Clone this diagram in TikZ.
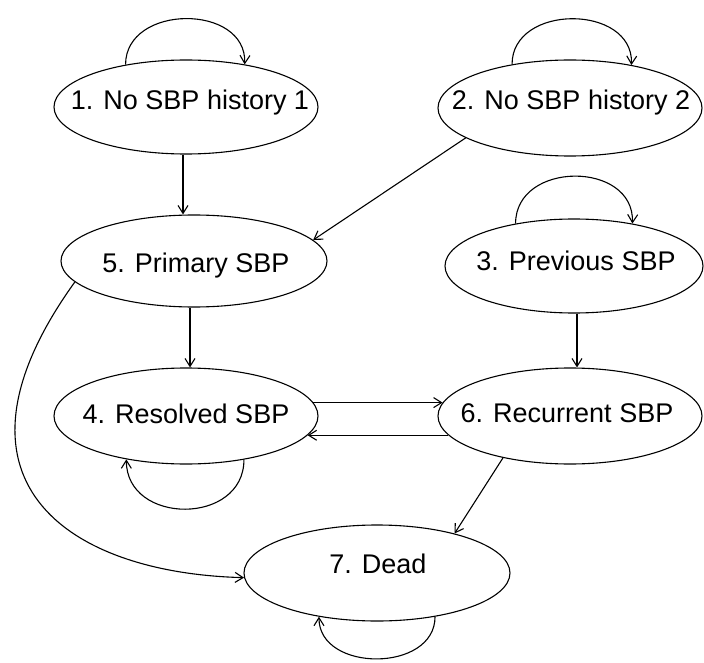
\documentclass[tikz,border=0pt]{standalone}
\usepackage{fontspec}
\setmainfont{Liberation Sans}
\usetikzlibrary{shapes.geometric,arrows.meta}
\begin{document}
\begin{tikzpicture}[x=1pt,y=-1pt,
  state/.style={draw, ellipse, line width=1.1pt, inner sep=0pt},
  lbl/.style={anchor=base, inner sep=0pt, font=\fontsize{27}{32}\selectfont},
  arr/.style={line width=1.1pt, -{Straight Barb[length=8pt,width=10pt]}}]
\useasboundingbox (0,0) rectangle (704,663);
% states
\node[state, minimum width=264pt, minimum height=94pt] (n1) at (186,107) {};
\node[state, minimum width=264pt, minimum height=96pt] (n2) at (570,108) {};
\node[state, minimum width=258pt, minimum height=94pt] (n3) at (574,266) {};
\node[state, minimum width=266pt, minimum height=92pt] (n5) at (194,261) {};
\node[state, minimum width=264pt, minimum height=96pt] (n4) at (186,416) {};
\node[state, minimum width=264pt, minimum height=96pt] (n6) at (570,416) {};
\node[state, minimum width=266pt, minimum height=96pt] (n7) at (377,573) {};
% labels
\node[lbl] (t1) at (190,110) {1. No SBP history 1};
\node[lbl] (t2) at (571,110) {2. No SBP history 2};
\node[lbl] (t3) at (576,270) {3. Previous SBP};
\node[lbl] (t5) at (196,272) {5. Primary SBP};
\node[lbl] (t4) at (186,423) {4. Resolved SBP};
\node[lbl] (t6) at (567,422) {6. Recurrent SBP};
\node[lbl] (t7) at (378,573) {7. Dead};
% straight connectors
\coordinate (a1) at ([xshift=-3pt]n1.south);
\draw[arr] (a1) -- (a1 |- n5.north);
\coordinate (a2) at ([xshift=-4pt]n5.south);
\draw[arr] (a2) -- (a2 |- n4.north);
\coordinate (a3) at ([xshift=3pt]n3.south);
\draw[arr] (a3) -- (a3 |- n6.north);
\draw[arr] (n2.196) -- (n5.10);
\draw[arr] (n4.6) -- (n6.174);
\draw[arr] (n6.189) -- (n4.351);
\draw[arr] (n6.212) -- (n7.27);
\draw[arr] (n5.190) .. controls (-67,479) and (65,573) .. (n7.182);
% self loops
\draw[arr] (n1.145) .. controls +(0,-61) and +(2,-61) .. (n1.36);
\draw[arr] (n2.143) .. controls +(0,-61) and +(2,-61) .. (n2.35);
\draw[arr] (n3.144) .. controls +(0,-63) and +(2,-63) .. (n3.36);
\draw[arr] (n4.323) .. controls +(0,66) and +(0,66) .. (n4.216);
\draw[arr] (n7.323) .. controls +(0,56) and +(0,56) .. (n7.217);
\end{tikzpicture}
\end{document}
